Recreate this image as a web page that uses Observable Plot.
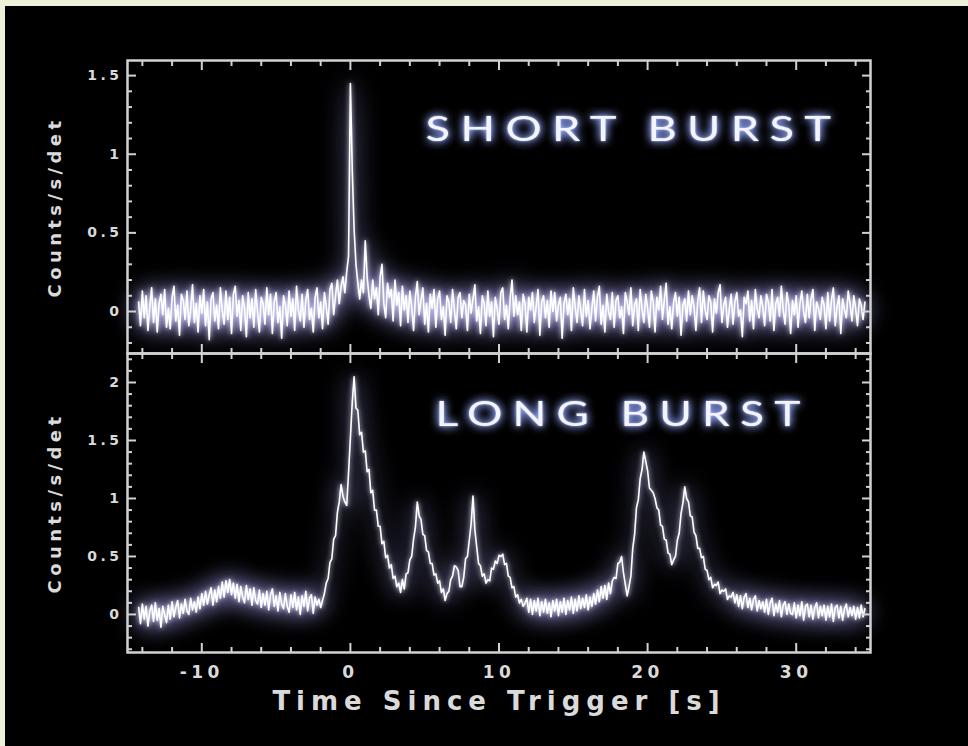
<!DOCTYPE html>
<html>
<head>
<meta charset="utf-8">
<script src="https://cdn.jsdelivr.net/npm/d3@7"></script>
<script src="https://cdn.jsdelivr.net/npm/@observablehq/plot@0.6"></script>
<style>
  html, body { margin: 0; padding: 0; background: #000; width: 968px; height: 746px; overflow: hidden; }
  #stage { position: relative; width: 968px; height: 746px; background: #000; }
  .panel { position: absolute; left: 0; }
  .strip { position: absolute; background: #eef0d9; z-index: 5; }
  svg { overflow: visible; }
  g[aria-label="y-axis tick label"] text { font-weight: bold; letter-spacing: 3.5px; }
  g[aria-label="x-axis tick label"] text { font-weight: bold; letter-spacing: 4.5px; }
  g[aria-label="y-axis label"] text { font-size: 18px; font-weight: bold; letter-spacing: 4.4px; }
  g[aria-label="x-axis label"] text { font-size: 26px; font-weight: bold; letter-spacing: 6px; }
  g[aria-label="text"] text { letter-spacing: 8px; }
</style>
</head>
<body>
<div id="stage">
  <div class="strip" style="left:0;top:0;width:968px;height:6px;"></div>
  <div class="strip" style="left:0;top:0;width:5px;height:746px;"></div>
</div>
<svg width="0" height="0" style="position:absolute">
  <defs>
    <filter id="traceGlow" filterUnits="userSpaceOnUse" x="0" y="-80" width="968" height="560">
      <feGaussianBlur in="SourceGraphic" stdDeviation="12" result="wide"/>
      <feColorMatrix in="wide" type="matrix" values="0 0 0 0 0.36  0 0 0 0 0.34  0 0 0 0 0.84  0 0 0 1.8 0" result="wideC"/>
      <feGaussianBlur in="SourceGraphic" stdDeviation="2.5" result="mid"/>
      <feColorMatrix in="mid" type="matrix" values="0 0 0 0 0.72  0 0 0 0 0.72  0 0 0 0 1  0 0 0 1.1 0" result="midC"/>
      <feMerge><feMergeNode in="wideC"/><feMergeNode in="midC"/><feMergeNode in="SourceGraphic"/></feMerge>
    </filter>
    <filter id="textGlow" x="-20%" y="-80%" width="140%" height="260%">
      <feGaussianBlur in="SourceGraphic" stdDeviation="5" result="b1"/>
      <feColorMatrix in="b1" type="matrix" values="0 0 0 0 0.28  0 0 0 0 0.38  0 0 0 0 1  0 0 0 1.8 0" result="c1"/>
      <feGaussianBlur in="SourceGraphic" stdDeviation="1" result="b2"/>
      <feColorMatrix in="b2" type="matrix" values="0 0 0 0 0.6  0 0 0 0 0.7  0 0 0 0 1  0 0 0 0.7 0" result="c2"/>
      <feMerge><feMergeNode in="c1"/><feMergeNode in="c2"/><feMergeNode in="SourceGraphic"/></feMerge>
    </filter>
  </defs>
</svg>
<script>
// ---- data ----
const timeStart = -14.25;   // s, first bin
const timeStep = 0.125;     // s, bin width

const shortCounts = [
  0.06,-0.09,0.13,-0.04,0.10,-0.12,0.03,0.15,-0.07,0.08,-0.13,0.05,0.11,-0.02,0.14,-0.10,
  0.02,-0.11,0.09,0.16,-0.06,0.04,-0.15,0.11,0.07,-0.05,0.13,-0.09,0.01,0.17,-0.07,0.05,
  -0.13,0.10,-0.01,0.14,-0.09,0.06,-0.18,0.08,0.12,-0.06,0.04,-0.11,0.15,0.01,-0.08,0.13,
  -0.05,0.09,-0.14,0.11,0.16,-0.03,0.07,-0.12,0.10,0.02,-0.16,0.12,-0.04,0.08,-0.10,0.14,
  0.00,-0.13,0.09,0.05,-0.08,0.15,-0.02,0.11,-0.14,0.06,0.12,-0.07,0.03,-0.17,0.10,0.04,
  -0.09,0.13,-0.03,0.08,-0.12,0.16,0.01,-0.06,0.11,-0.10,0.07,0.14,-0.05,0.02,-0.13,0.09,
  0.15,-0.04,0.06,-0.11,0.12,0.03,-0.08,0.14,0.18,-0.02,0.10,0.20,0.05,0.16,0.22,0.12,
  0.25,0.35,1.45,0.90,0.52,0.30,0.18,0.08,0.20,0.12,0.45,0.22,0.10,0.02,0.20,0.08,
  0.15,-0.02,0.22,0.30,0.05,-0.04,0.18,0.09,0.14,-0.06,0.20,0.04,0.12,-0.09,0.16,0.01,
  0.10,-0.07,0.13,0.03,-0.12,0.09,0.19,-0.02,0.07,0.15,-0.08,0.05,-0.13,0.11,0.02,0.14,
  -0.10,0.08,0.13,-0.05,0.03,-0.15,0.10,0.06,-0.07,0.14,0.01,-0.11,0.09,0.12,-0.04,0.07,
  0.04,-0.12,0.11,-0.01,0.08,0.17,-0.06,0.03,-0.14,0.10,0.05,-0.09,0.13,-0.03,0.06,-0.16,
  0.09,0.02,-0.08,0.12,0.15,-0.05,0.04,-0.11,0.08,0.20,-0.03,0.10,-0.02,0.06,-0.12,0.11,
  0.05,-0.13,0.09,0.01,0.12,-0.07,0.03,0.14,-0.15,0.06,0.10,-0.04,0.07,-0.10,0.13,0.00,
  0.12,-0.06,0.04,0.09,-0.17,0.05,0.11,-0.02,0.08,-0.12,0.15,0.03,-0.07,0.10,0.01,-0.09,
  0.14,-0.03,0.07,-0.11,0.02,0.13,-0.06,0.09,0.16,-0.08,0.04,-0.13,0.11,0.00,-0.05,0.12,
  -0.10,0.07,0.10,-0.04,0.03,-0.14,0.12,0.06,-0.02,0.15,-0.09,0.04,0.08,-0.12,0.14,0.02,
  -0.07,0.11,0.02,-0.10,0.13,0.06,-0.13,0.09,0.01,0.16,-0.05,0.07,0.18,-0.08,0.03,-0.11,
  0.06,0.12,-0.03,0.09,-0.15,0.04,0.08,-0.06,0.13,-0.02,0.10,0.03,-0.12,0.07,0.15,-0.07,
  0.13,0.01,-0.05,0.10,0.06,-0.13,0.08,-0.01,0.12,0.17,-0.07,0.04,0.09,-0.10,0.02,0.11,
  -0.08,0.06,0.12,-0.03,0.01,-0.16,0.09,0.05,0.13,-0.06,0.07,-0.11,0.14,0.02,-0.04,0.10,
  0.03,-0.09,0.11,0.06,-0.06,0.14,-0.12,0.05,0.09,-0.03,0.16,0.01,-0.08,0.12,0.04,-0.14,
  0.07,-0.02,0.10,-0.10,0.05,0.13,0.00,-0.07,0.11,-0.04,0.08,0.14,-0.12,0.06,0.02,-0.05,
  0.09,0.04,-0.11,0.12,-0.06,0.07,0.15,-0.09,0.03,0.10,-0.14,0.08,0.01,-0.04,0.13,0.05,
  -0.06,0.10,0.02,-0.09,0.08,0.04,-0.05,0.06
];

const longCounts = [
  0.06,-0.08,0.09,-0.04,0.07,-0.10,0.03,0.08,-0.06,0.10,-0.05,0.05,-0.11,0.07,0.00,-0.07,
  0.08,-0.04,0.11,-0.02,0.06,0.12,-0.03,0.09,0.01,0.13,0.03,0.00,0.14,0.04,0.11,0.02,
  0.15,0.05,0.18,0.08,0.20,0.09,0.17,0.23,0.08,0.21,0.11,0.24,0.14,0.28,0.15,0.29,
  0.19,0.30,0.17,0.27,0.14,0.26,0.11,0.24,0.15,0.10,0.25,0.13,0.22,0.08,0.23,0.12,
  0.09,0.21,0.06,0.18,0.08,0.20,0.04,0.17,0.22,0.07,0.16,0.03,0.19,0.09,0.05,0.18,
  0.07,0.02,0.17,0.06,0.19,0.04,0.15,0.00,0.16,0.07,0.20,0.03,0.14,0.17,0.01,0.15,
  0.08,0.13,0.06,0.12,0.18,0.27,0.31,0.45,0.48,0.65,0.68,0.88,0.97,1.12,1.02,0.97,
  0.94,1.22,1.52,1.83,2.05,1.78,1.76,1.55,1.57,1.40,1.41,1.23,1.25,1.05,1.07,0.90,
  0.90,0.76,0.76,0.61,0.63,0.49,0.51,0.40,0.43,0.31,0.33,0.24,0.27,0.19,0.30,0.22,
  0.35,0.36,0.47,0.50,0.65,0.75,0.97,0.85,0.82,0.69,0.68,0.55,0.54,0.44,0.44,0.34,
  0.35,0.27,0.29,0.19,0.22,0.12,0.18,0.20,0.30,0.33,0.42,0.41,0.38,0.24,0.24,0.32,
  0.48,0.50,0.64,0.78,1.02,0.73,0.58,0.44,0.42,0.33,0.35,0.27,0.30,0.29,0.40,0.39,
  0.46,0.44,0.51,0.50,0.52,0.43,0.44,0.33,0.32,0.23,0.24,0.15,0.17,0.10,0.13,0.07,
  0.10,0.14,0.02,0.13,0.00,0.12,0.03,0.14,-0.01,0.11,0.02,0.13,0.01,0.10,-0.02,0.12,
  0.03,0.13,-0.01,0.11,0.02,0.14,0.00,0.12,0.04,0.15,0.01,0.13,0.03,0.16,0.05,0.14,
  0.06,0.17,0.04,0.15,0.07,0.18,0.09,0.21,0.11,0.24,0.14,0.25,0.13,0.27,0.18,0.29,
  0.32,0.31,0.44,0.45,0.50,0.36,0.26,0.16,0.24,0.33,0.57,0.69,0.92,0.99,1.17,1.25,
  1.40,1.32,1.24,1.09,1.07,1.05,1.00,0.92,0.90,0.77,0.76,0.65,0.64,0.53,0.52,0.43,
  0.47,0.50,0.64,0.70,0.87,0.96,1.10,1.00,0.97,0.85,0.84,0.71,0.68,0.57,0.57,0.49,
  0.50,0.39,0.38,0.30,0.32,0.23,0.26,0.25,0.28,0.18,0.21,0.20,0.22,0.13,0.16,0.15,
  0.19,0.10,0.17,0.07,0.16,0.05,0.15,0.18,0.06,0.14,0.04,0.13,0.16,0.03,0.12,0.05,
  0.11,0.02,0.13,0.00,0.10,0.14,-0.01,0.09,0.02,0.12,-0.02,0.08,0.11,0.00,0.09,0.01,
  0.00,0.10,-0.03,0.08,-0.01,0.11,-0.05,0.07,0.09,-0.02,0.08,-0.04,0.06,0.10,-0.03,0.07,
  -0.01,0.08,-0.05,0.07,-0.02,0.09,-0.06,0.06,0.08,-0.03,0.07,-0.05,0.05,0.09,-0.02,0.06,
  -0.01,0.07,-0.04,0.06,-0.03,0.08,-0.02,0.05
];

const panelTitles = ["SHORT BURST", "LONG BURST"];
const yLabel = "Counts/s/det";
const xLabel = "Time Since Trigger [s]";

const xMajorTicks = [-10, 0, 10, 20, 30];
const xMinorTicks = [-14, -12, -8, -6, -4, -2, 2, 4, 6, 8, 12, 14, 16, 18, 22, 24, 26, 28, 32, 34];
const yMajorTicksShort = [0, 0.5, 1, 1.5];
const yMinorTicksShort = [-0.2, -0.1, 0.1, 0.2, 0.3, 0.4, 0.6, 0.7, 0.8, 0.9, 1.1, 1.2, 1.3, 1.4];
const yMajorTicksLong = [0, 0.5, 1, 1.5, 2];
const yMinorTicksLong = [-0.3, -0.2, -0.1, 0.1, 0.2, 0.3, 0.4, 0.6, 0.7, 0.8, 0.9, 1.1, 1.2, 1.3, 1.4, 1.6, 1.7, 1.8, 1.9, 2.1, 2.2];

// ---- drawing ----
const tickColor = "#d2d2d2";
const fmt = d => String(d);

function panel({counts, yDomain, yMajor, yMinor, height, marginTop, marginBottom, title, titleDx, titleDy, titleLength, showX}) {
  const data = counts.map((v, i) => ({t: timeStart + i * timeStep, v}));
  const tk = {stroke: tickColor, strokeWidth: 2, text: null, label: null};
  const marks = [
    Plot.line(data, {x: "t", y: "v", stroke: "#ffffff", strokeWidth: 1.6}),
    Plot.axisY({...tk, anchor: "left", ticks: yMajor, tickSize: -9}),
    Plot.axisY({...tk, anchor: "left", ticks: yMinor, tickSize: -5}),
    Plot.axisY({...tk, anchor: "right", ticks: yMajor, tickSize: -9}),
    Plot.axisY({...tk, anchor: "right", ticks: yMinor, tickSize: -5}),
    Plot.axisX({...tk, anchor: "top", ticks: xMajorTicks, tickSize: -9}),
    Plot.axisX({...tk, anchor: "top", ticks: xMinorTicks, tickSize: -5}),
    Plot.axisX({...tk, anchor: "bottom", ticks: xMajorTicks, tickSize: -9}),
    Plot.axisX({...tk, anchor: "bottom", ticks: xMinorTicks, tickSize: -5}),
    Plot.axisY({anchor: "left", ticks: yMajor, tickSize: 0, tickPadding: 5, tickFormat: fmt,
      fontSize: 14, fill: "#dadada", label: yLabel, labelAnchor: "center", labelOffset: 79, labelArrow: "none"}),
    showX ? Plot.axisX({anchor: "bottom", ticks: xMajorTicks, tickSize: 0, tickPadding: 13, tickFormat: fmt,
      fontSize: 17, fill: "#dadada", label: xLabel, labelAnchor: "center", labelOffset: 57, labelArrow: "none"}) : null,
    Plot.frame({stroke: tickColor, strokeWidth: 2.5}),
    Plot.text([title], {text: d => d, frameAnchor: "top-right", dx: titleDx, dy: titleDy,
      textAnchor: "end", lineAnchor: "middle", fontSize: 35, fontFamily: "Lato", fill: "#f4f4ff"})
  ];
  const svg = Plot.plot({
    width: 968, height, marginTop, marginBottom, marginLeft: 127, marginRight: 98,
    x: {domain: [-15, 35]},
    y: {domain: yDomain},
    style: {background: "transparent", color: "#dadada", fontFamily: "DejaVu Sans", overflow: "visible"},
    marks
  });
  d3.select(svg).selectAll('g[aria-label="line"]').attr("filter", "url(#traceGlow)");
  const tg = d3.select(svg).selectAll('g[aria-label="text"]').attr("filter", "url(#textGlow)");
  tg.selectAll("text").attr("textLength", titleLength).attr("lengthAdjust", "spacingAndGlyphs");
  return svg;
}

const stage = document.getElementById("stage");

const topPanel = panel({counts: shortCounts, yDomain: [-0.267, 1.596], yMajor: yMajorTicksShort, yMinor: yMinorTicksShort,
  height: 355, marginTop: 60, marginBottom: 2, title: panelTitles[0], titleDx: -29, titleDy: 69, titleLength: 416, showX: false});
const bottomPanel = panel({counts: longCounts, yDomain: [-0.328, 2.25], yMajor: yMajorTicksLong, yMinor: yMinorTicksLong,
  height: 395, marginTop: 2, marginBottom: 94, title: panelTitles[1], titleDx: -60, titleDy: 61, titleLength: 375, showX: true});

const d1 = document.createElement("div"); d1.className = "panel"; d1.style.top = "0px"; d1.appendChild(topPanel);
const d2 = document.createElement("div"); d2.className = "panel"; d2.style.top = "351px"; d2.appendChild(bottomPanel);
stage.appendChild(d1);
stage.appendChild(d2);
</script>
</body>
</html>
